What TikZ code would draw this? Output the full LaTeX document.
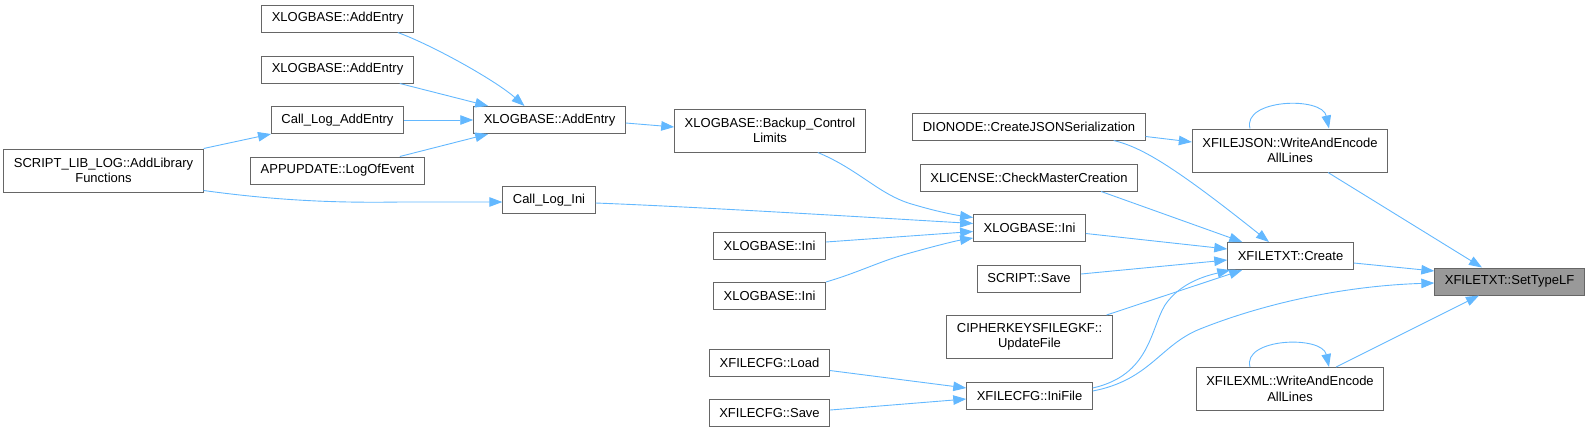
\documentclass[tikz,border=0pt]{standalone}
\usepackage{fontspec}
\setmainfont{Liberation Sans}
\usepackage{tikz}
\usetikzlibrary{arrows.meta}
\definecolor{edgeblue}{HTML}{63B8FF}
\definecolor{boxline}{HTML}{666666}
\definecolor{curfill}{HTML}{999999}

\begin{document}
\begin{tikzpicture}[x=1pt, y=-1pt, >={Triangle[length=13pt, width=9.5pt]}, font=\fontsize{13}{15.5}\selectfont]

% Box styles in the doxygen look
\tikzstyle{fnbox} = [draw=boxline, line width=1pt, fill=white, rectangle, inner xsep=10pt, inner ysep=2pt, minimum height=27pt, align=center]
\tikzstyle{fnboxtall} = [fnbox, minimum height=43pt]
\tikzstyle{curbox} = [fnbox, fill=curfill]
\tikzstyle{calls} = [->, line width=0.9pt, edgeblue]

\useasboundingbox (0,0) rectangle (1589,432);

% Column 1
\node[fnboxtall] (libfn) at (103.5, 170.5) {SCRIPT\_LIB\_LOG::AddLibrary\\Functions};

% Column 2
\node[fnbox] (addA) at (337.5, 18.5) {XLOGBASE::AddEntry};
\node[fnbox] (addB) at (337.5, 69.5) {XLOGBASE::AddEntry};
\node[fnbox] (callAdd) at (337.5, 120) {Call\_Log\_AddEntry};
\node[fnbox] (appUpd) at (337.5, 170.5) {APPUPDATE::LogOfEvent};

% Column 3
\node[fnbox] (addMain) at (549.5, 120) {XLOGBASE::AddEntry};
\node[fnbox] (callIni) at (549, 200) {Call\_Log\_Ini};

% Column 4
\node[fnboxtall] (backup) at (770, 130.5) {XLOGBASE::Backup\_Control\\Limits};
\node[fnbox] (iniA) at (769.5, 245.5) {XLOGBASE::Ini};
\node[fnbox] (iniB) at (769.5, 295.5) {XLOGBASE::Ini};
\node[fnbox] (cfgLoad) at (769.5, 362.5) {XFILECFG::Load};
\node[fnbox] (cfgSave) at (769.5, 413) {XFILECFG::Save};

% Column 5
\node[fnbox] (dioNode) at (1029, 126.5) {DIONODE::CreateJSONSerialization};
\node[fnbox] (license) at (1029, 177.5) {XLICENSE::CheckMasterCreation};
\node[fnbox] (iniMain) at (1029.5, 227.5) {XLOGBASE::Ini};
\node[fnbox] (scrSave) at (1029, 278.5) {SCRIPT::Save};
\node[fnboxtall] (cipher) at (1029.5, 337) {CIPHERKEYSFILEGKF::\\UpdateFile};
\node[fnbox] (iniFile) at (1029.5, 396) {XFILECFG::IniFile};

% Column 6
\node[fnboxtall] (json) at (1290, 150.5) {XFILEJSON::WriteAndEncode\\AllLines};
\node[fnbox] (create) at (1290.5, 256) {XFILETXT::Create};
\node[fnboxtall] (xml) at (1290, 389) {XFILEXML::WriteAndEncode\\AllLines};

% Column 7
\node[curbox] (setLF) at (1509.5, 281.5) {XFILETXT::SetTypeLF};

% SCRIPT_LIB_LOG calls
\draw[calls] (libfn.north east) -- (callAdd.south west);
\draw[calls] ([yshift=2pt]libfn.south east) .. controls (280,201) and (340,203) .. (400,202) -- ([yshift=-2pt]callIni.west);

% into XLOGBASE::AddEntry
\draw[calls] ([xshift=-16pt]addA.south east) .. controls (432,45) and (495,80) .. ([xshift=-25pt]addMain.north);
\draw[calls] ([xshift=-14pt]addB.south east) -- ([xshift=15pt]addMain.north west);
\draw[calls] (callAdd.east) -- (addMain.west);
\draw[calls] ([xshift=-25pt]appUpd.north east) -- ([xshift=15pt]addMain.south west);
\draw[calls] ([yshift=-3pt]addMain.east) -- ([yshift=3.5pt]backup.west);

% into XLOGBASE::Ini
\draw[calls] ([yshift=-3pt]callIni.east) .. controls (700,207) and (880,218) .. ([yshift=4pt]iniMain.west);
\draw[calls] ([xshift=-48pt]backup.south east) .. controls (860,170) and (880,196) .. (915,205) .. controls (935,211) and (955,215) .. ([yshift=10pt]iniMain.west);
\draw[calls] ([yshift=3.5pt]iniA.east) -- ([yshift=-4pt]iniMain.west);
\draw[calls] ([yshift=13.5pt]iniB.east) .. controls (860,272) and (880,261) .. (910,253) .. controls (935,246) and (955,241) .. ([yshift=-10.5pt]iniMain.west);

% into XFILECFG::IniFile
\draw[calls] ([yshift=-8pt]cfgLoad.east) -- ([yshift=8pt]iniFile.west);
\draw[calls] ([yshift=3pt]cfgSave.east) -- ([yshift=-3pt]iniFile.west);

% into XFILEJSON
\draw[calls] ([yshift=-10pt]dioNode.east) -- ([yshift=8.5pt]json.west);
\draw[calls] ([xshift=-40pt]json.north) .. controls (1242,99) and (1322,96) .. ([xshift=39pt]json.north);

% into XFILETXT::Create
\draw[calls] ([xshift=-32pt]dioNode.south east) .. controls (1140,147) and (1170,163) .. ([xshift=-21.5pt]create.north);
\draw[calls] ([xshift=-37pt]license.south east) -- ([xshift=15pt]create.north west);
\draw[calls] ([yshift=-6pt]iniMain.east) -- ([yshift=7pt]create.west);
\draw[calls] ([yshift=4.5pt]scrSave.east) -- ([yshift=-4pt]create.west);
\draw[calls] ([xshift=-6pt]cipher.north east) -- ([xshift=15pt]create.south west);
\draw[calls] ([yshift=8pt]iniFile.east) .. controls (1150,375) and (1150,330) .. (1165,305) .. controls (1180,283) and (1205,276) .. ([xshift=3pt]create.south west);

% into XFILETXT::SetTypeLF
\draw[calls] ([xshift=38pt]json.south) -- ([xshift=-27.5pt]setLF.north);
\draw[calls] ([yshift=-7pt]create.east) -- ([yshift=10.5pt]setLF.west);
\draw[calls] ([yshift=5pt]iniFile.east) .. controls (1150,380) and (1160,345) .. (1200,329) .. controls (1260,305) and (1340,286) .. ([yshift=-1.5pt]setLF.west);
\draw[calls] ([xshift=46pt]xml.north) -- ([xshift=-30.5pt]setLF.south);
\draw[calls] ([xshift=-40pt]xml.north) .. controls (1242,338) and (1322,335) .. ([xshift=39pt]xml.north);

\end{tikzpicture}
\end{document}
